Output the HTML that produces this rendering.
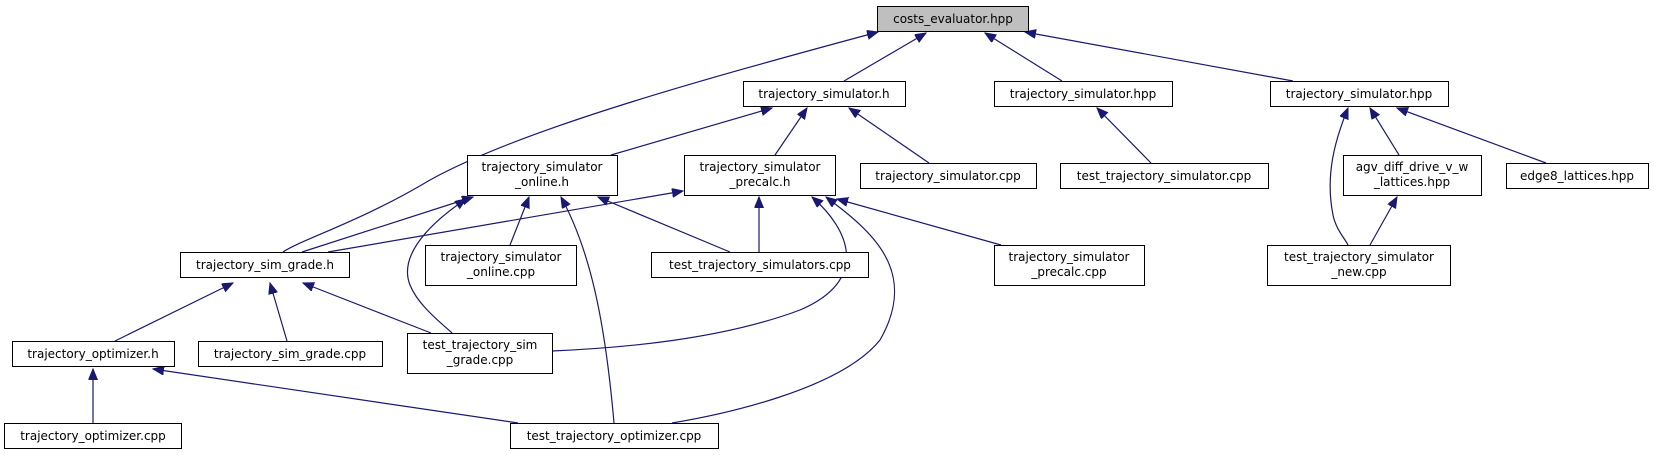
<!DOCTYPE html>
<html><head><meta charset="utf-8"><style>
html,body{margin:0;padding:0;background:#fff;}
svg{display:block;}
text{font-family:"DejaVu Sans","Liberation Sans",sans-serif;font-size:12px;fill:#000;}
.b{fill:#fff;stroke:#000;stroke-width:1;}
.e{fill:none;stroke:#191970;stroke-width:1.2;marker-start:url(#a);}
</style></head><body>
<svg width="1654" height="455" viewBox="0 0 1654 455" xmlns="http://www.w3.org/2000/svg">
<defs><marker id="a" markerUnits="userSpaceOnUse" markerWidth="12" markerHeight="10" refX="11" refY="4.5" orient="auto-start-reverse"><path d="M0,0 L11,4.5 L0,9 z" fill="#191970" stroke="#191970"/></marker></defs>

<!-- edges -->
<path class="e" d="M878,32 C700,80 520,130 430,180 C360,222 300,240 283,252"/>
<path class="e" d="M926,33 L844,81"/>
<path class="e" d="M985,33 L1062,81"/>
<path class="e" d="M1025,32 L1293,81"/>
<path class="e" d="M772,108 L611,155"/>
<path class="e" d="M807,108 L775,155"/>
<path class="e" d="M849,108 L929,163"/>
<path class="e" d="M1097,108 L1151,163"/>
<path class="e" d="M1348,108 C1335,140 1325,175 1333,215 C1336,230 1346,240 1348,245"/>
<path class="e" d="M1370,108 L1399,155"/>
<path class="e" d="M1397,108 L1546,163"/>
<path class="e" d="M1397,197 L1370,245"/>
<path class="e" d="M473,197 L302,252"/>
<path class="e" d="M683,191 L328,252"/>
<path class="e" d="M466,199 C420,230 400,260 410,285 C418,305 440,322 452,333"/>
<path class="e" d="M529,197 L510,245"/>
<path class="e" d="M561,197 C590,250 605,320 614,423"/>
<path class="e" d="M598,197 L730,252"/>
<path class="e" d="M759,197 L759,252"/>
<path class="e" d="M812,197 C850,230 870,280 800,310 C720,340 620,348 552,351"/>
<path class="e" d="M826,197 C870,230 920,270 880,340 C840,390 720,415 672,423"/>
<path class="e" d="M837,199 L1001,245"/>
<path class="e" d="M233,283 L115,341"/>
<path class="e" d="M270,283 L287,341"/>
<path class="e" d="M303,283 L431,333"/>
<path class="e" d="M93,369 L93,423"/>
<path class="e" d="M153,369 L518,423"/>

<!-- nodes -->
<rect x="877.5" y="6.5" width="151" height="25" fill="#bfbfbf" stroke="#000"/>
<text x="953" y="23" text-anchor="middle">costs_evaluator.hpp</text>

<rect class="b" x="743.5" y="81.5" width="162" height="25"/>
<text x="824" y="98" text-anchor="middle">trajectory_simulator.h</text>
<rect class="b" x="994.5" y="81.5" width="178" height="25"/>
<text x="1083" y="98" text-anchor="middle">trajectory_simulator.hpp</text>
<rect class="b" x="1270.5" y="81.5" width="178" height="25"/>
<text x="1359" y="98" text-anchor="middle">trajectory_simulator.hpp</text>

<rect class="b" x="467.5" y="155.5" width="150" height="40"/>
<text x="542" y="171" text-anchor="middle">trajectory_simulator</text>
<text x="542" y="186" text-anchor="middle">_online.h</text>
<rect class="b" x="684.5" y="155.5" width="151" height="40"/>
<text x="760" y="171" text-anchor="middle">trajectory_simulator</text>
<text x="760" y="186" text-anchor="middle">_precalc.h</text>
<rect class="b" x="860.5" y="163.5" width="176" height="25"/>
<text x="948" y="180" text-anchor="middle">trajectory_simulator.cpp</text>
<rect class="b" x="1060.5" y="163.5" width="208" height="25"/>
<text x="1164" y="180" text-anchor="middle">test_trajectory_simulator.cpp</text>
<rect class="b" x="1343.5" y="155.5" width="138" height="40"/>
<text x="1412" y="171" text-anchor="middle">agv_diff_drive_v_w</text>
<text x="1412" y="186" text-anchor="middle">_lattices.hpp</text>
<rect class="b" x="1506.5" y="163.5" width="142" height="25"/>
<text x="1577" y="180" text-anchor="middle">edge8_lattices.hpp</text>

<rect class="b" x="180.5" y="252.5" width="169" height="25"/>
<text x="265" y="269" text-anchor="middle">trajectory_sim_grade.h</text>
<rect class="b" x="425.5" y="245.5" width="151" height="40"/>
<text x="501" y="261" text-anchor="middle">trajectory_simulator</text>
<text x="501" y="276" text-anchor="middle">_online.cpp</text>
<rect class="b" x="651.5" y="252.5" width="217" height="25"/>
<text x="760" y="269" text-anchor="middle">test_trajectory_simulators.cpp</text>
<rect class="b" x="994.5" y="245.5" width="150" height="40"/>
<text x="1069" y="261" text-anchor="middle">trajectory_simulator</text>
<text x="1069" y="276" text-anchor="middle">_precalc.cpp</text>
<rect class="b" x="1267.5" y="245.5" width="183" height="40"/>
<text x="1359" y="261" text-anchor="middle">test_trajectory_simulator</text>
<text x="1359" y="276" text-anchor="middle">_new.cpp</text>

<rect class="b" x="12.5" y="341.5" width="162" height="25"/>
<text x="93" y="358" text-anchor="middle">trajectory_optimizer.h</text>
<rect class="b" x="198.5" y="341.5" width="184" height="25"/>
<text x="290" y="358" text-anchor="middle">trajectory_sim_grade.cpp</text>
<rect class="b" x="407.5" y="333.5" width="145" height="40"/>
<text x="480" y="349" text-anchor="middle">test_trajectory_sim</text>
<text x="480" y="364" text-anchor="middle">_grade.cpp</text>

<rect class="b" x="4.5" y="423.5" width="177" height="25"/>
<text x="93" y="440" text-anchor="middle">trajectory_optimizer.cpp</text>
<rect class="b" x="510.5" y="423.5" width="208" height="25"/>
<text x="614" y="440" text-anchor="middle">test_trajectory_optimizer.cpp</text>
</svg>
</body></html>
